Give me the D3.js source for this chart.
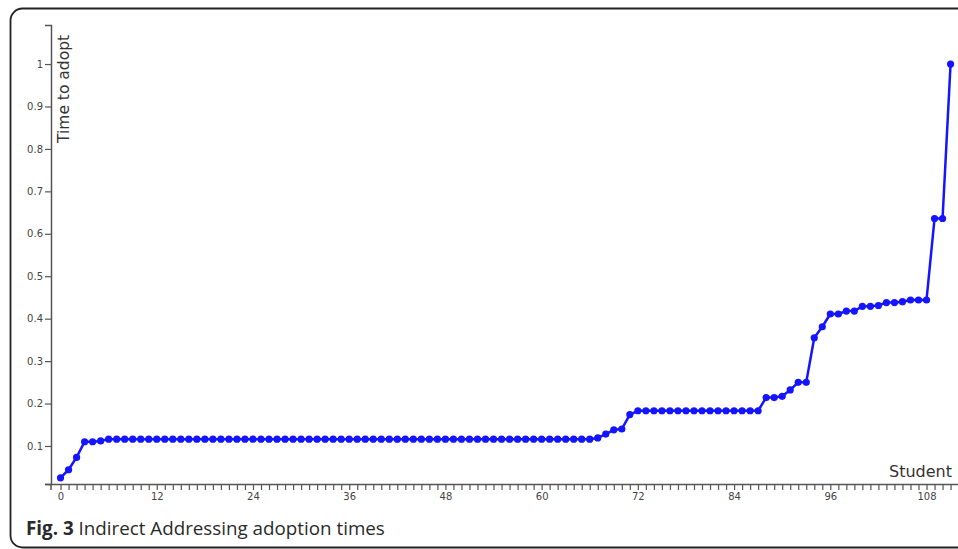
<!DOCTYPE html>
<html>
<head>
<meta charset="utf-8">
<script src="https://cdn.jsdelivr.net/npm/d3@7"></script>
<style>
  html, body { margin: 0; padding: 0; background: #fff; }
  svg { display: block; }
</style>
</head>
<body>
<svg id="chart" width="958" height="549"></svg>
<script>
// ---- data ----
const adoptionTimes = [
  0.025, 0.044, 0.073, 0.110, 0.110, 0.112, 0.116, 0.116, 0.116, 0.116,
  0.116, 0.116, 0.116, 0.116, 0.116, 0.116, 0.116, 0.116, 0.116, 0.116,
  0.116, 0.116, 0.116, 0.116, 0.116, 0.116, 0.116, 0.116, 0.116, 0.116,
  0.116, 0.116, 0.116, 0.116, 0.116, 0.116, 0.116, 0.116, 0.116, 0.116,
  0.116, 0.116, 0.116, 0.116, 0.116, 0.116, 0.116, 0.116, 0.116, 0.116,
  0.116, 0.116, 0.116, 0.116, 0.116, 0.116, 0.116, 0.116, 0.116, 0.116,
  0.116, 0.116, 0.116, 0.116, 0.116, 0.116, 0.116, 0.119, 0.128, 0.138,
  0.140, 0.174, 0.183, 0.183, 0.183, 0.183, 0.183, 0.183, 0.183, 0.183,
  0.183, 0.183, 0.183, 0.183, 0.183, 0.183, 0.183, 0.183, 0.214, 0.214,
  0.217, 0.232, 0.250, 0.250, 0.355, 0.381, 0.411, 0.411, 0.418, 0.418,
  0.429, 0.429, 0.431, 0.438, 0.438, 0.440, 0.444, 0.444, 0.444, 0.636,
  0.636, 1.000
];
const yTickValues = [0.1, 0.2, 0.3, 0.4, 0.5, 0.6, 0.7, 0.8, 0.9, 1];
const yTickLabels = ["0.1", "0.2", "0.3", "0.4", "0.5", "0.6", "0.7", "0.8", "0.9", "1"];
const xLabelStep = 12;
const xAxisTitle = "Student";
const yAxisTitle = "Time to adopt";
const captionBold = "Fig. 3";
const captionText = " Indirect Addressing adoption times";

// ---- drawing ----
const svg = d3.select("#chart");

// frame
svg.append("rect")
  .attr("x", 10.5).attr("y", 8.5)
  .attr("width", 970).attr("height", 539)
  .attr("rx", 12).attr("ry", 12)
  .attr("fill", "none")
  .attr("stroke", "#222")
  .attr("stroke-width", 1.8);

const x = d3.scaleLinear().domain([-2, 112.3]).range([44.5, 961]);
const y = d3.scaleLinear().domain([0.0104, 1.092]).range([484, 25]);

const axisColor = "#555";
const labelColor = "#444";

// x axis
const xTicks = d3.range(0, 113);
const gx = svg.append("g")
  .attr("transform", "translate(0,484)")
  .call(d3.axisBottom(x)
    .tickValues(xTicks)
    .tickSize(6)
    .tickSizeOuter(0)
    .tickPadding(3)
    .tickFormat(d => (d % xLabelStep === 0 && d <= 108) ? String(d) : ""));
gx.select(".domain").attr("stroke", axisColor).attr("stroke-width", 1.5);
gx.selectAll(".tick line").attr("stroke", axisColor).attr("stroke-width", 1.2);
gx.selectAll(".tick text")
  .attr("fill", labelColor)
  .style("font-family", "'DejaVu Sans', sans-serif")
  .style("font-size", "10px");

// y axis
const gy = svg.append("g")
  .attr("transform", "translate(51,0)")
  .call(d3.axisLeft(y)
    .tickValues(yTickValues)
    .tickSize(6)
    .tickSizeOuter(6)
    .tickPadding(2)
    .tickFormat((d, i) => yTickLabels[i]));
gy.select(".domain").attr("stroke", axisColor).attr("stroke-width", 1.5);
gy.selectAll(".tick line").attr("stroke", axisColor).attr("stroke-width", 1.2);
gy.selectAll(".tick text")
  .attr("fill", labelColor)
  .style("font-family", "'DejaVu Sans', sans-serif")
  .style("font-size", "10px");
// small extension of y axis below the x axis
svg.append("line")
  .attr("x1", 51).attr("x2", 51).attr("y1", 484).attr("y2", 490)
  .attr("stroke", axisColor).attr("stroke-width", 1.5);

// axis titles
svg.append("text")
  .attr("transform", "translate(69,143) rotate(-90)")
  .attr("fill", "#333")
  .style("font-family", "'DejaVu Sans', sans-serif")
  .style("font-size", "15.5px")
  .text(yAxisTitle);

svg.append("text")
  .attr("x", 952).attr("y", 477)
  .attr("text-anchor", "end")
  .attr("fill", "#333")
  .style("font-family", "'DejaVu Sans', sans-serif")
  .style("font-size", "16px")
  .text(xAxisTitle);

// line and points
const lineGen = d3.line()
  .x((d, i) => x(i))
  .y(d => y(d));

svg.append("path")
  .datum(adoptionTimes)
  .attr("d", lineGen)
  .attr("fill", "none")
  .attr("stroke", "#1414ff")
  .attr("stroke-width", 2.5)
  .attr("stroke-linejoin", "round");

svg.append("g")
  .selectAll("circle")
  .data(adoptionTimes)
  .join("circle")
  .attr("cx", (d, i) => x(i))
  .attr("cy", d => y(d))
  .attr("r", 3.6)
  .attr("fill", "#1414ff");

// caption
const cap = svg.append("text")
  .attr("x", 26).attr("y", 535)
  .attr("fill", "#2a2a2a")
  .style("font-family", "'Open Sans', sans-serif")
  .style("font-size", "18.8px");
cap.append("tspan").style("font-weight", "bold").text(captionBold);
cap.append("tspan").text(captionText);
</script>
</body>
</html>
